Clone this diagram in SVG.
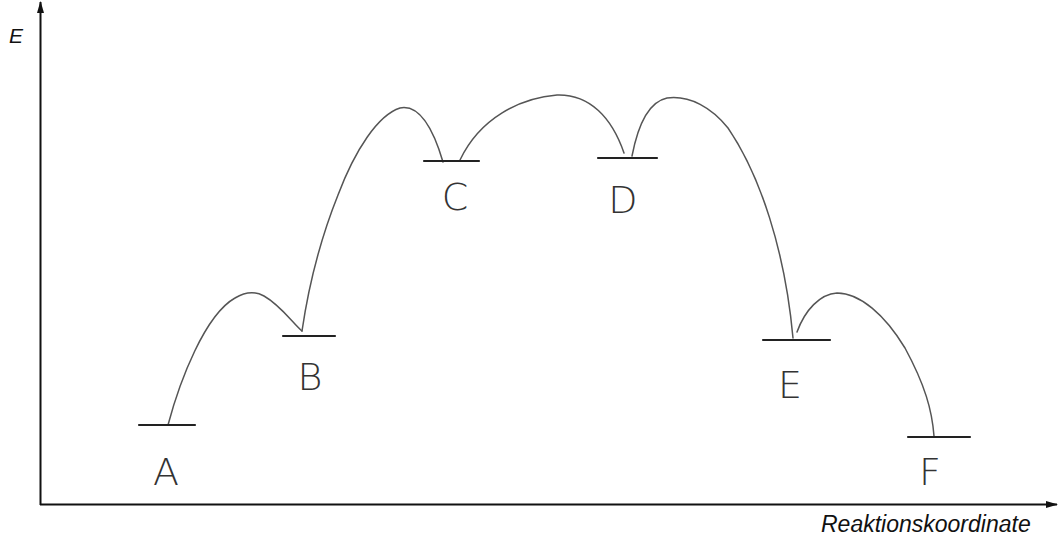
<svg xmlns="http://www.w3.org/2000/svg" width="1059" height="538" viewBox="0 0 1059 538">
<style>
.axis{stroke:#111;stroke-width:2;fill:none}
.lvl{stroke:#222;stroke-width:2.2;fill:none;stroke-linecap:round}
.crv{stroke:#555;stroke-width:1.5;fill:none;stroke-linecap:round}
.ax{font-family:"Liberation Sans",Arial,sans-serif;font-style:italic;fill:#111}
.lab{font-family:"DejaVu Sans","Liberation Sans",sans-serif;font-weight:200;font-size:38px;fill:#333;text-anchor:middle}
</style>
<defs>
<marker id="arr" markerWidth="12" markerHeight="8" refX="11" refY="4" orient="auto" markerUnits="userSpaceOnUse">
<path d="M0,0.5 L12,4 L0,7.5 Z" fill="#111"/>
</marker>
</defs>
<rect width="1059" height="538" fill="#fff"/>
<g id="axes">
<line class="axis" x1="40.5" y1="505" x2="40.5" y2="2" marker-end="url(#arr)"/>
<line class="axis" x1="40" y1="504.5" x2="1057" y2="504.5" marker-end="url(#arr)"/>
<text class="ax" x="9" y="43" font-size="21">E</text>
<text class="ax" x="821" y="532" font-size="23">Reaktionskoordinate</text>
</g>
<g id="connectors">
<path class="crv" d="M168,425 C180,380 205,315 235,298 C245,292 255,291 264,296 C280,305 292,322 302,331"/>
<path class="crv" d="M302,331 C308,290 320,240 338,195 C355,150 378,115 400,108 C415,105 430,118 443,162"/>
<path class="crv" d="M460,160 C480,118 520,98 557,95 C590,94 612,118 624,153"/>
<path class="crv" d="M632,156 C638,125 648,102 667,98 C690,95 712,108 728,128 C760,175 785,250 793,338"/>
<path class="crv" d="M797,332 C805,310 820,294 837,293 C860,293 885,315 905,348 C925,385 932,410 934,436"/>
</g>
<g id="A"><line class="lvl" x1="139" y1="425" x2="195" y2="425"/><text class="lab" x="166" y="485">A</text></g>
<g id="B"><line class="lvl" x1="283" y1="336" x2="335" y2="336"/><text class="lab" x="310" y="390">B</text></g>
<g id="C"><line class="lvl" x1="424" y1="161" x2="479" y2="161"/><text class="lab" x="455" y="210">C</text></g>
<g id="D"><line class="lvl" x1="598" y1="158" x2="657" y2="158"/><text class="lab" x="623" y="213">D</text></g>
<g id="E"><line class="lvl" x1="763" y1="340" x2="830" y2="340"/><text class="lab" x="790" y="398">E</text></g>
<g id="F"><line class="lvl" x1="908" y1="437" x2="970" y2="437"/><text class="lab" x="930" y="485">F</text></g>
</svg>
